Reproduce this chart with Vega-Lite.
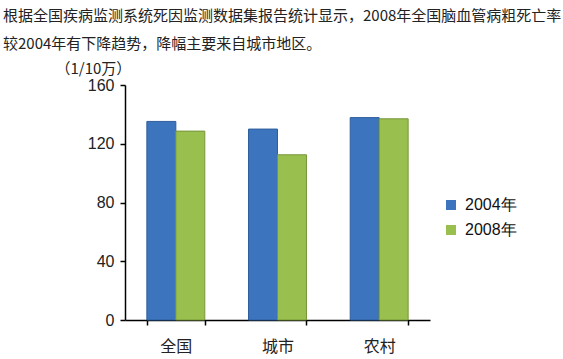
{
  "$schema": "https://vega.github.io/schema/vega-lite/v6.json",
  "width": 305,
  "height": 235,
  "autosize": {"type": "none"},
  "padding": {"left": 125, "top": 85, "right": 133, "bottom": 39},
  "background": "white",
  "title": {
    "text": ["根据全国疾病监测系统死因监测数据集报告统计显示，2008年全国脑血管病粗死亡率", "较2004年有下降趋势，降幅主要来自城市地区。"],
    "anchor": "start",
    "frame": "group",
    "dx": -122,
    "dy": 21,
    "offset": 30,
    "font": "Noto Sans CJK SC",
    "fontSize": 15,
    "fontWeight": "normal",
    "lineHeight": 28,
    "color": "#222222"
  },
  "data": {
    "values": [
      {"region": "全国", "year": "2004年", "rate": 135.2},
      {"region": "全国", "year": "2008年", "rate": 128.6},
      {"region": "城市", "year": "2004年", "rate": 130.0},
      {"region": "城市", "year": "2008年", "rate": 112.5},
      {"region": "农村", "year": "2004年", "rate": 137.8},
      {"region": "农村", "year": "2008年", "rate": 137.0}
    ]
  },
  "mark": {"type": "bar", "strokeWidth": 1},
  "encoding": {
    "x": {
      "field": "region",
      "type": "nominal",
      "sort": ["全国", "城市", "农村"],
      "scale": {"paddingInner": 0.43, "paddingOuter": 0.215},
      "axis": {
        "title": null,
        "labelAngle": 0,
        "labelFont": "Noto Sans CJK SC",
        "labelFontSize": 16,
        "labelColor": "#222222",
        "labelPadding": 13,
        "domainColor": "#000000",
        "domainWidth": 1.5,
        "tickColor": "#000000",
        "tickWidth": 1.5,
        "tickSize": 5,
        "tickBand": "extent",
        "grid": false
      }
    },
    "xOffset": {"field": "year", "type": "nominal"},
    "y": {
      "field": "rate",
      "type": "quantitative",
      "scale": {"domain": [0, 160], "nice": false},
      "axis": {
        "values": [0, 40, 80, 120, 160],
        "grid": false,
        "title": "（1/10万）",
        "titleAngle": 0,
        "titleX": -70,
        "titleY": -17,
        "titleAlign": "left",
        "titleBaseline": "middle",
        "titleFont": "Noto Sans CJK SC",
        "titleFontSize": 15,
        "titleFontWeight": "normal",
        "titleColor": "#222222",
        "labelFont": "Liberation Sans",
        "labelFontSize": 16,
        "labelColor": "#222222",
        "labelPadding": 6,
        "domainColor": "#000000",
        "domainWidth": 1.5,
        "tickColor": "#000000",
        "tickWidth": 1.5,
        "tickSize": 5
      }
    },
    "fill": {
      "field": "year",
      "type": "nominal",
      "scale": {"range": ["#3C74BE", "#99BF4E"]},
      "legend": {
        "title": null,
        "orient": "none",
        "legendX": 318,
        "legendY": 112,
        "symbolType": "square",
        "symbolSize": 100,
        "symbolStrokeWidth": 0,
        "labelFont": "Liberation Sans",
        "labelFontSize": 16,
        "labelColor": "#111111",
        "labelOffset": 6,
        "rowPadding": 9
      }
    },
    "stroke": {
      "field": "year",
      "type": "nominal",
      "scale": {"range": ["#2E5E9C", "#77963A"]},
      "legend": null
    }
  },
  "config": {
    "view": {"stroke": null}
  }
}
